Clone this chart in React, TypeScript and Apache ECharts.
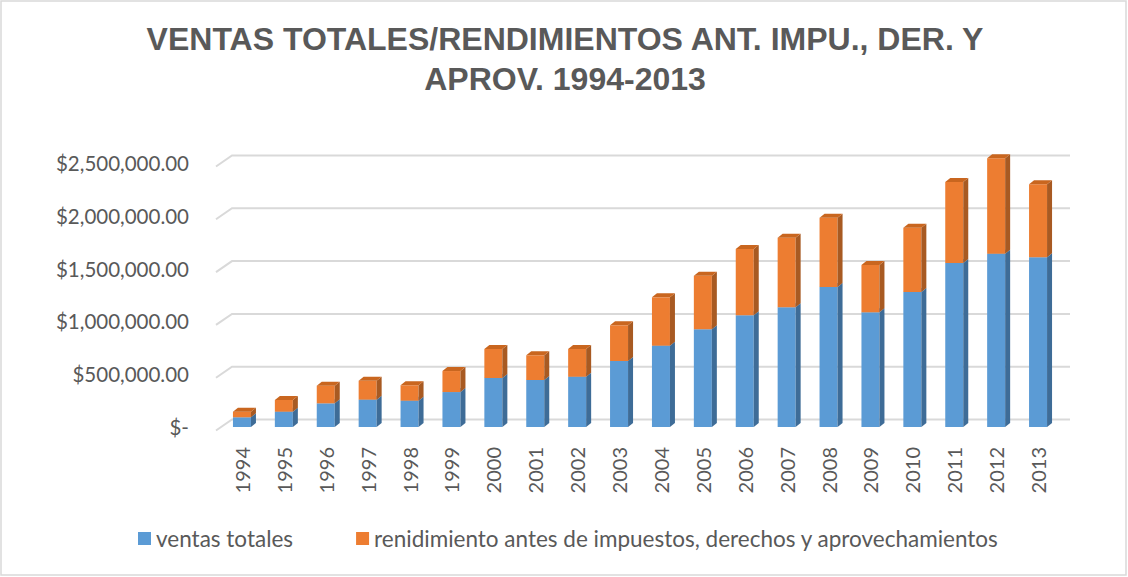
import React, { useEffect, useRef } from "react";
import * as echarts from "echarts";

const years = ["1994","1995","1996","1997","1998","1999","2000","2001","2002","2003","2004","2005","2006","2007","2008","2009","2010","2011","2012","2013"];
const ventasTotales = [92000, 145000, 224000, 259000, 249000, 331000, 464000, 445000, 476000, 625000, 770000, 925000, 1058000, 1133000, 1326000, 1086000, 1278000, 1553000, 1641000, 1607000];
const rendimiento = [53000, 111000, 167000, 179000, 146000, 199000, 275000, 234000, 263000, 338000, 458000, 508000, 628000, 660000, 656000, 448000, 609000, 767000, 903000, 691000];
const yTicks = [0, 500000, 1000000, 1500000, 2000000, 2500000];
const seriesNames = ["ventas totales", "renidimiento antes de impuestos, derechos y aprovechamientos"];
const titleText = "VENTAS TOTALES/RENDIMIENTOS ANT. IMPU., DER. Y\nAPROV. 1994-2013";

const BAR_W = 18;
const DX = 5;
const DY = -4;

function fmtMoney(v: number): string {
  if (v === 0) return "$-";
  return "$" + v.toLocaleString("en-US") + ".00";
}

function makeBarRender(front: string, side: string, topc: string) {
  return (params: any, api: any) => {
    const i = api.value(0);
    const base = api.value(1);
    const top = api.value(2);
    const p0 = api.coord([i, base]);
    const p1 = api.coord([i, top]);
    const x0 = p0[0] - BAR_W / 2;
    const y0 = p0[1];
    const y1 = p1[1];
    const x1 = x0 + BAR_W;
    return {
      type: "group",
      children: [
        {
          type: "rect",
          shape: { x: x0, y: y1, width: BAR_W, height: y0 - y1 },
          style: { fill: front },
        },
        {
          type: "polygon",
          shape: { points: [[x1, y1], [x1 + DX, y1 + DY], [x1 + DX, y0 + DY], [x1, y0]] },
          style: { fill: side },
        },
        {
          type: "polygon",
          shape: { points: [[x0, y1], [x0 + DX, y1 + DY], [x1 + DX, y1 + DY], [x1, y1]] },
          style: { fill: topc },
        },
      ],
    };
  };
}

export default function App() {
  const ref = useRef<HTMLDivElement>(null);
  useEffect(() => {
    if (!ref.current) return;
    const chart = echarts.init(ref.current, null, { renderer: "svg" });
    const blueData = years.map((_, i) => [i, 0, ventasTotales[i]]);
    const orangeData = years.map((_, i) => [i, ventasTotales[i], ventasTotales[i] + rendimiento[i]]);
    chart.setOption({
      animation: false,
      backgroundColor: "#ffffff",
      graphic: [
        {
          type: "rect",
          shape: { x: 1, y: 1, width: 1125, height: 574 },
          style: { fill: "none", stroke: "#d9d9d9", lineWidth: 1.5 },
          silent: true,
          z: -10,
        },
        {
          type: "text",
          x: 565,
          y: 19,
          silent: true,
          style: {
            text: titleText,
            textAlign: "center",
            textVerticalAlign: "top",
            fontFamily: "Liberation Sans",
            fontWeight: "bold",
            fontSize: 32,
            lineHeight: 40,
            fill: "#595959",
          },
        },
      ],
      legend: {
        data: seriesNames.map((n) => ({ name: n, icon: "rect" })),
        left: 138,
        top: 527,
        padding: 0,
        itemWidth: 13,
        itemHeight: 13,
        itemGap: 63,
        textStyle: { fontFamily: "Lato", fontSize: 22.5, color: "#595959" },
      },
      grid: { left: 221, right: 69, top: 163, bottom: 150 },
      xAxis: {
        type: "category",
        data: years,
        axisLine: { show: false },
        axisTick: { show: false },
        axisLabel: {
          rotate: 90,
          interval: 0,
          margin: 20,
          fontFamily: "Lato",
          fontSize: 20,
          color: "#595959",
        },
      },
      yAxis: {
        type: "value",
        min: 0,
        max: 2500000,
        interval: 500000,
        splitLine: { show: false },
        axisLine: { show: false },
        axisTick: { show: false },
        axisLabel: {
          formatter: fmtMoney,
          margin: 32,
          padding: [12, 0, 0, 0],
          fontFamily: "Lato",
          fontSize: 20.5,
          color: "#595959",
        },
      },
      series: [
        {
          type: "custom",
          name: "grid3d",
          silent: true,
          z: 1,
          data: yTicks.map((v) => [0, v]),
          renderItem: (params: any, api: any) => {
            const y = api.coord([0, api.value(1)])[1];
            const cs = params.coordSys;
            const left = cs.x;
            const right = cs.x + cs.width;
            return {
              type: "polyline",
              shape: { points: [[left - 5, y + 3.5], [left + 11, y - 7.5], [right + 11, y - 7.5]] },
              style: { stroke: "#d9d9d9", lineWidth: 2, fill: "none" },
            };
          },
        },
        {
          type: "custom",
          name: seriesNames[0],
          z: 2,
          itemStyle: { color: "#5B9BD5" },
          encode: { x: 0, y: [1, 2] },
          data: blueData,
          renderItem: makeBarRender("#5B9BD5", "#3E6C97", "#6FA8DC"),
        },
        {
          type: "custom",
          name: seriesNames[1],
          z: 3,
          itemStyle: { color: "#ED7D31" },
          encode: { x: 0, y: [1, 2] },
          data: orangeData,
          renderItem: makeBarRender("#ED7D31", "#A85A22", "#C9661F"),
        },
      ],
    });
    return () => chart.dispose();
  }, []);
  return <div ref={ref} style={{ position: "fixed", left: 0, top: 0, width: 1128, height: 577 }} />;
}
